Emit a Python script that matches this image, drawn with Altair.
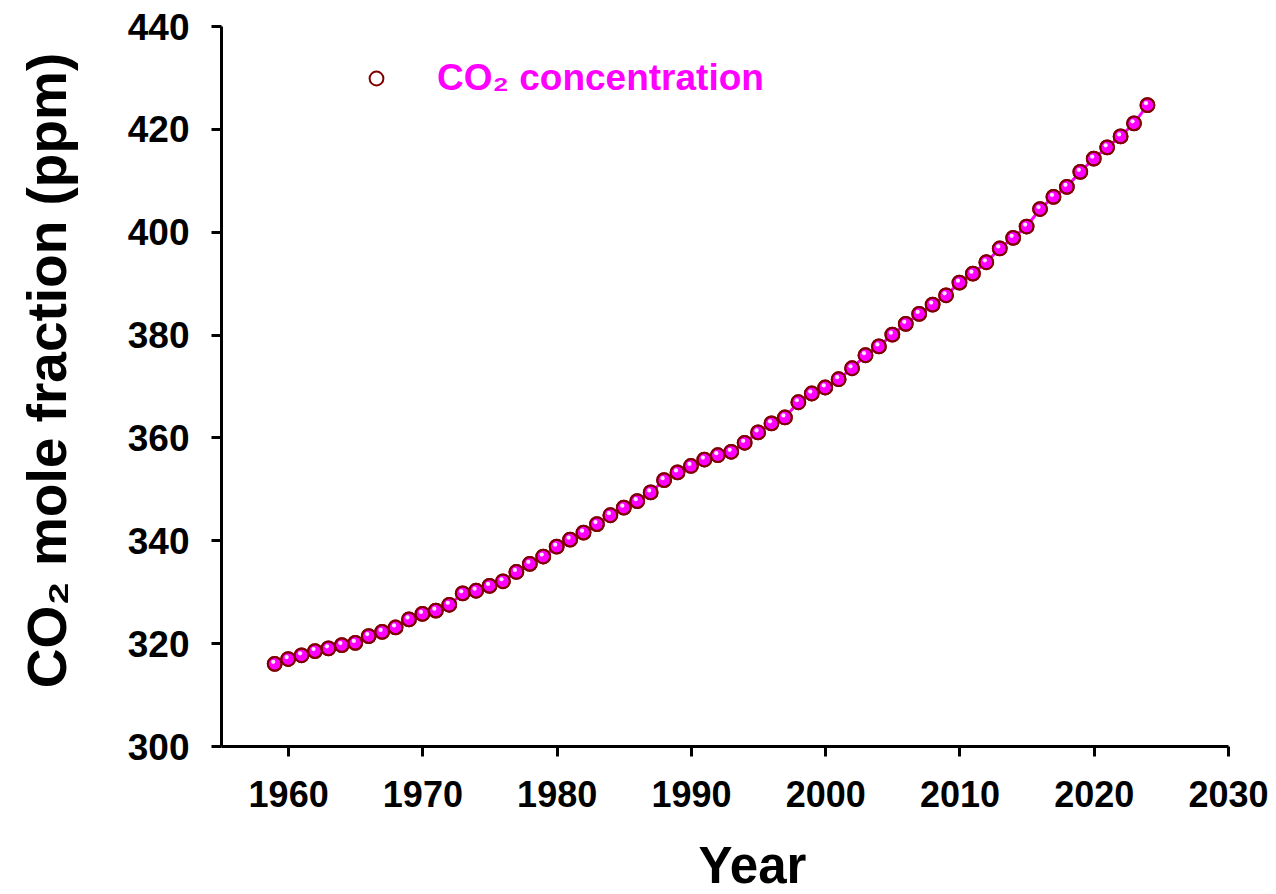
import altair as alt
import pandas as pd

years = list(range(1959, 2025))
co2 = [315.98, 316.91, 317.64, 318.45, 318.99, 319.62, 320.04, 321.37, 322.18, 323.05,
       324.62, 325.68, 326.32, 327.46, 329.68, 330.19, 331.13, 332.03, 333.84, 335.41,
       336.84, 338.76, 340.12, 341.48, 343.15, 344.87, 346.35, 347.61, 349.31, 351.69,
       353.20, 354.45, 355.70, 356.54, 357.21, 358.96, 360.97, 362.74, 363.88, 366.84,
       368.54, 369.71, 371.32, 373.45, 375.98, 377.70, 379.98, 382.09, 384.02, 385.83,
       387.64, 390.10, 391.85, 394.06, 396.74, 398.81, 401.01, 404.41, 406.76, 408.72,
       411.65, 414.21, 416.41, 418.53, 421.08, 424.61]
series_name = "CO\u2082 concentration"
x_ticks = [1960, 1970, 1980, 1990, 2000, 2010, 2020, 2030]
y_ticks = [300, 320, 340, 360, 380, 400, 420, 440]

df = pd.DataFrame({"year": years, "co2": co2, "series": series_name})

FONT = "Liberation Sans"

x = alt.X("year:Q",
          scale=alt.Scale(domain=[1955, 2030], nice=False, zero=False),
          axis=alt.Axis(values=x_ticks, format="d", title="Year",
                        labelPadding=22, labelFlush=False, labelFontSize=36,
                        titleX=531, titleY=136,
                        titleBaseline="alphabetic", titleAnchor="start",
                        titleAlign="center", titleFontSize=51))
y = alt.Y("co2:Q",
          scale=alt.Scale(domain=[300, 440], nice=False, zero=False),
          axis=alt.Axis(values=y_ticks, title="CO\u2082 mole fraction (ppm)",
                        labelPadding=22, labelFlush=False, labelOffset=2,
                        labelFontSize=37,
                        titleX=-173, titleY=344,
                        titleAngle=-90, titleBaseline="middle",
                        titleAlign="center", titleFontSize=55))

line = alt.Chart(df).mark_line(color="#FF00FF", strokeWidth=3).encode(x=x, y=y)

points = alt.Chart(df).mark_point(
    filled=True, fill="#FF00FF", stroke="#800000", size=190, strokeWidth=2, opacity=1
).encode(x=x, y=y)

legend_ring = alt.Chart(df).mark_point(
    filled=False, size=190, strokeWidth=2, opacity=1
).encode(
    x=x, y=y,
    stroke=alt.Stroke("series:N", scale=alt.Scale(range=["#800000"]),
                      legend=alt.Legend(title=None, orient="none",
                                        legendX=137, legendY=34,
                                        symbolStrokeWidth=2,
                                        symbolSize=190, symbolType="circle",
                                        labelColor="#FF00FF", labelFont=FONT,
                                        labelFontSize=37, labelFontWeight="bold",
                                        labelOffset=42, padding=0,
                                        labelLimit=600))
)

highlight = alt.Chart(df).mark_point(
    filled=True, fill="white", size=18, opacity=0.9, xOffset=-1.5, yOffset=-2
).encode(x=x, y=y)

chart = alt.layer(line, points, legend_ring, highlight).properties(
    width=1007, height=720,
    autosize=alt.AutoSizeParams(type="none"),
    padding={"left": 213, "top": 18, "right": 40, "bottom": 146},
).configure_view(stroke=None).configure_axis(
    grid=False, domainColor="black", domainWidth=3, tickColor="black",
    tickWidth=3, tickSize=10, labelFont=FONT,
    labelFontWeight="bold", labelColor="black", titleFont=FONT,
    titleFontWeight="bold", titleColor="black"
)

chart.save("out.html", embed_options={"renderer": "svg", "actions": False})
